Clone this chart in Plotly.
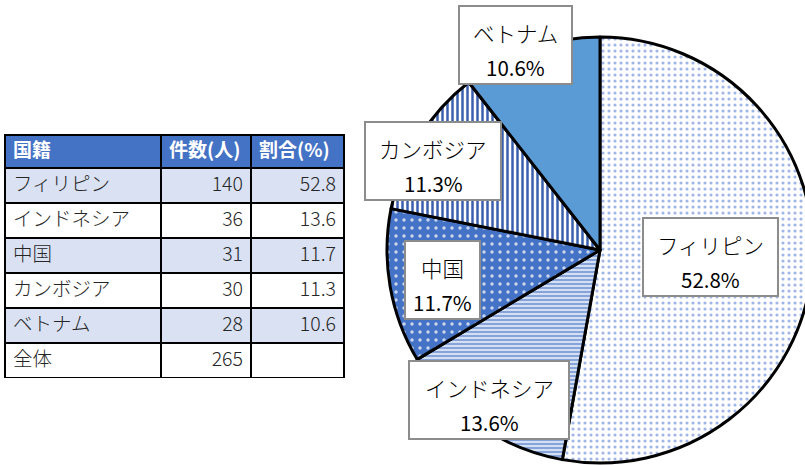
import plotly.graph_objects as go

# ---- data ----
countries = ["フィリピン", "インドネシア", "中国", "カンボジア", "ベトナム"]
counts = [140, 36, 31, 30, 28]
shares = [52.8, 13.6, 11.7, 11.3, 10.6]
total_label = "全体"
total_count = 265
header = ["国籍", "件数(人)", "割合(%)"]

# ---- layout constants ----
W, H = 815, 465
FONT = "Noto Sans CJK JP"

def px(x):
    return x / W

def py(y):
    return 1 - y / H

fig = go.Figure()

# table
col1 = countries + [total_label]
col2 = [str(c) for c in counts] + [str(total_count)]
col3 = [f"{s:.1f}" for s in shares] + [""]
row_fill = ["#d9e1f2", "#ffffff"] * 3

fig.add_trace(go.Table(
    domain=dict(x=[px(5), px(344)], y=[py(378), py(135)]),
    columnwidth=[156, 90, 93],
    header=dict(
        values=header,
        fill_color="#4472c4",
        line=dict(color="black", width=2),
        font=dict(family=FONT, size=19, color="white", weight="bold"),
        align=["left", "left", "left"],
        height=33,
    ),
    cells=dict(
        values=[col1, col2, col3],
        fill_color=[row_fill, row_fill, row_fill],
        line=dict(color="black", width=2),
        font=dict(family=FONT, size=19.5, color="#262626", weight=300),
        align=["left", "right", "right"],
        height=35,
    ),
))

# pie
fig.add_trace(go.Pie(
    labels=countries,
    values=counts,
    sort=False,
    direction="clockwise",
    rotation=0,
    textinfo="none",
    hoverinfo="label+percent",
    showlegend=False,
    domain=dict(x=[px(387), px(813)], y=[py(463), py(37)]),
    marker=dict(
        colors=["#ffffff", "#86a3da", "#4472c4", "#ffffff", "#5b9bd5"],
        line=dict(color="black", width=3),
        pattern=dict(
            shape=[".", "-", ".", "|", ""],
            bgcolor=["#ffffff", "#86a3da", "#4472c4", "#ffffff", "#5b9bd5"],
            fgcolor=["#9fb6e6", "#dde6f7", "#c9d6ef", "#3a5fad", "#5b9bd5"],
            size=[6, 4, 8, 5, 8],
            solidity=[0.22, 0.45, 0.15, 0.5, 0.3],
        ),
    ),
))

# label boxes (pixel boxes: x0, x1, y0, y1)
boxes = {
    "フィリピン": (643, 778, 218, 296),
    "インドネシア": (409, 569, 361, 439),
    "中国": (405, 480, 241, 319),
    "カンボジア": (365, 501, 122, 200),
    "ベトナム": (459, 572, 6, 84),
}
shapes = []
annotations = []
for name, pct in zip(countries, shares):
    x0, x1, y0, y1 = boxes[name]
    shapes.append(dict(type="rect", xref="paper", yref="paper",
                       x0=px(x0), x1=px(x1), y0=py(y1), y1=py(y0),
                       fillcolor="white", line=dict(color="#8c8c8c", width=2)))
    cx = (x0 + x1) / 2
    annotations.append(dict(xref="paper", yref="paper", x=px(cx), y=py(y0 + 26),
                            text=name, showarrow=False, xanchor="center", yanchor="middle",
                            font=dict(family=FONT, size=21.5, color="black", weight=300)))
    annotations.append(dict(xref="paper", yref="paper", x=px(cx), y=py(y0 + 61),
                            text=f"{pct}%", showarrow=False, xanchor="center", yanchor="middle",
                            font=dict(family=FONT, size=20.5, color="black")))

fig.update_layout(
    width=W, height=H,
    margin=dict(l=0, r=0, t=0, b=0),
    paper_bgcolor="white",
    plot_bgcolor="white",
    shapes=shapes,
    annotations=annotations,
    font=dict(family=FONT),
)

fig.write_html("out.html",
               config={"displayModeBar": False},
               post_script="document.body.style.margin='0';document.body.style.overflow='hidden';")
